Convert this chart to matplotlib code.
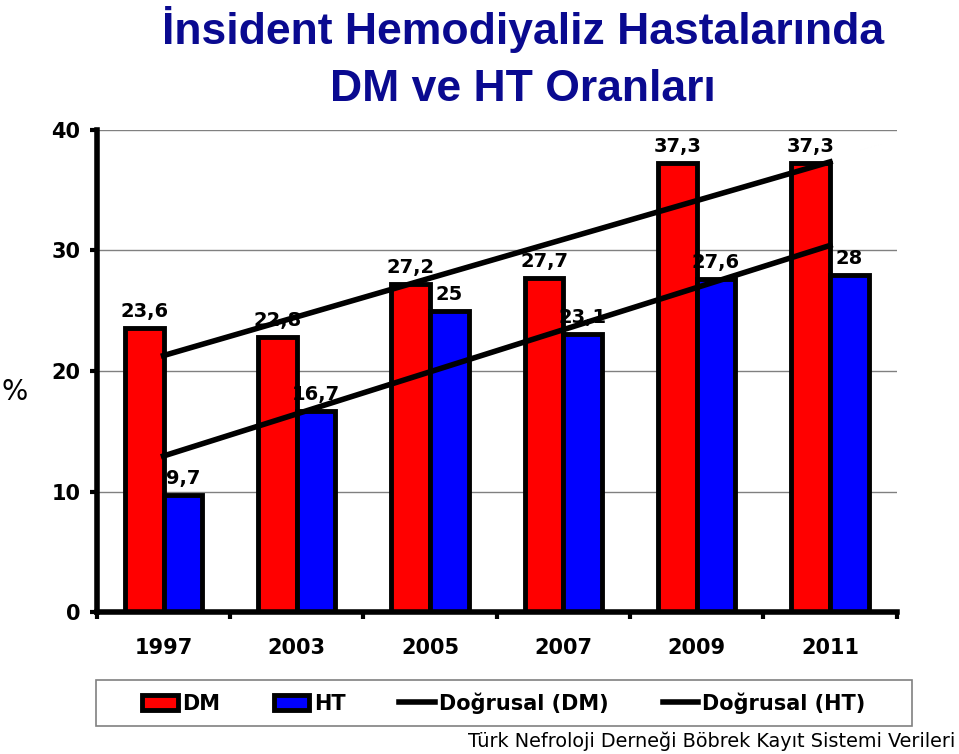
import numpy as np
import matplotlib
matplotlib.use('Agg')
import matplotlib.pyplot as plt
from matplotlib.patches import Rectangle

# data
years = ['1997', '2003', '2005', '2007', '2009', '2011']
dm = [23.6, 22.8, 27.2, 27.7, 37.3, 37.3]
ht = [9.7, 16.7, 25, 23.1, 27.6, 28]
dm_labels = ['23,6', '22,8', '27,2', '27,7', '37,3', '37,3']
ht_labels = ['9,7', '16,7', '25', '23,1', '27,6', '28']

plt.rcParams['font.family'] = 'DejaVu Sans'

fig = plt.figure(figsize=(9.59, 7.54), dpi=100)
ax = fig.add_axes([0.101, 0.1883, 0.834, 0.6393])

x = np.arange(len(years))
w = 0.29
b_dm = ax.bar(x - w / 2, dm, w, color='#ff0000', edgecolor='black', linewidth=3.5,
              label='DM', zorder=2)
b_ht = ax.bar(x + w / 2, ht, w, color='#0000ff', edgecolor='black', linewidth=3.5,
              label='HT', zorder=2)

for xi, v, s in zip(x, dm, dm_labels):
    ax.annotate(s, (xi - w / 2, v), xytext=(0, 5), textcoords='offset points',
                ha='center', va='bottom', fontsize=14, fontweight='bold', zorder=3)
for xi, v, s in zip(x, ht, ht_labels):
    ax.annotate(s, (xi + w / 2, v), xytext=(0, 5), textcoords='offset points',
                ha='center', va='bottom', fontsize=14, fontweight='bold', zorder=3)

# linear trendlines (Excel "Doğrusal")
k1, c1 = np.polyfit(x, dm, 1)
k2, c2 = np.polyfit(x, ht, 1)
l_dm, = ax.plot(x, k1 * x + c1, color='black', lw=4, label='Doğrusal (DM)', zorder=4)
l_ht, = ax.plot(x, k2 * x + c2, color='black', lw=4, label='Doğrusal (HT)', zorder=4)

ax.set_xlim(-0.5, len(years) - 0.5)
ax.set_ylim(0, 40)
ax.set_yticks([0, 10, 20, 30, 40])
ax.yaxis.grid(True, color='#808080', lw=1)
ax.set_axisbelow(True)

ax.set_xticks(x)
ax.set_xticklabels(years, fontsize=15, fontweight='bold')
ax.set_xticks(np.arange(-0.5, len(years)), minor=True)
ax.tick_params(axis='x', which='major', length=0, pad=19)
ax.tick_params(axis='x', which='minor', length=5, width=3, direction='out')
ax.tick_params(axis='y', length=5, width=3, labelsize=15, pad=7)
for t in ax.get_yticklabels():
    t.set_fontweight('bold')

for s in ['top', 'right']:
    ax.spines[s].set_visible(False)
ax.spines['left'].set_linewidth(4)
ax.spines['bottom'].set_linewidth(4)

fig.text(0.002, 0.48, '%', fontsize=20, ha='left', va='center')

fig.text(0.545, 0.941, 'İnsident Hemodiyaliz Hastalarında', fontsize=32,
         fontweight='bold', color='#0a0a90', family='Liberation Sans',
         ha='center', va='baseline')
fig.text(0.545, 0.866, 'DM ve HT Oranları', fontsize=32,
         fontweight='bold', color='#0a0a90', family='Liberation Sans',
         ha='center', va='baseline')

# legend box like Excel's, legend entries centred inside
box = (96 / 959, 1 - 726 / 754, 816 / 959, 46 / 754)
fig.patches.append(Rectangle(box[:2], box[2], box[3], transform=fig.transFigure,
                             facecolor='white', edgecolor='#808080', lw=1.2))
fig.legend([b_dm, b_ht, l_dm, l_ht],
           ['DM', 'HT', 'Doğrusal (DM)', 'Doğrusal (HT)'],
           loc='center', ncol=4, bbox_to_anchor=box, borderaxespad=0,
           prop={'size': 15, 'weight': 'bold'}, frameon=False,
           handlelength=1.7, handletextpad=0.2, columnspacing=2.6)

fig.text(0.996, 0.004, 'Türk Nefroloji Derneği Böbrek Kayıt Sistemi Verileri',
         fontsize=13.9, ha='right', va='bottom')

plt.savefig('out.png', dpi=100)
